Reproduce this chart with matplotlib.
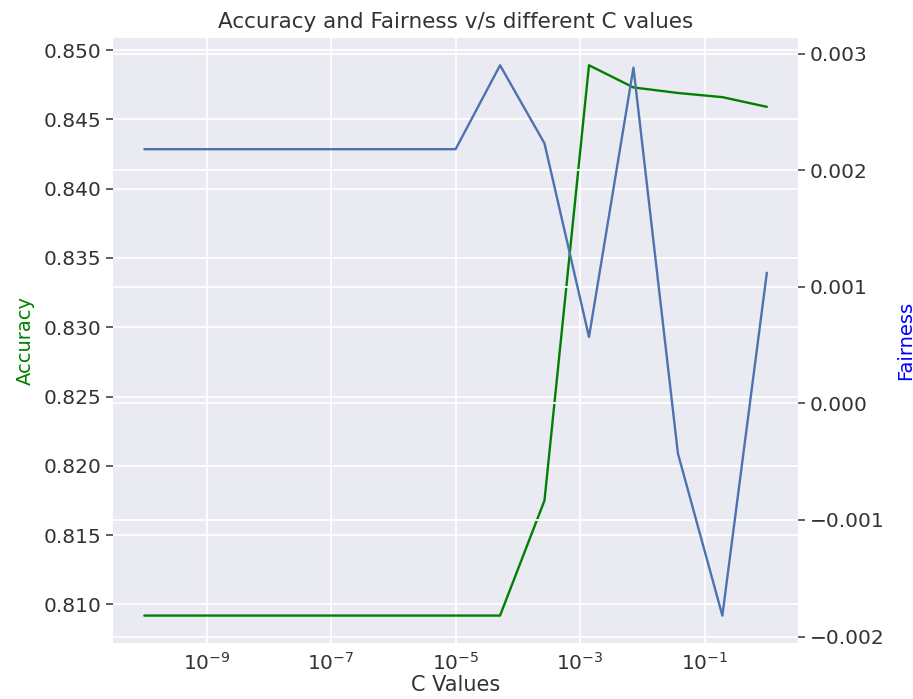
import matplotlib
matplotlib.use("Agg")
import matplotlib.pyplot as plt
import seaborn as sns

# C values tried (log spaced) and the scores
c_values = [1e-10, 1e-5, 5.18e-5, 2.68e-4, 1.39e-3, 7.20e-3, 3.73e-2, 1.93e-1, 1.0]
accuracy = [0.8092, 0.8092, 0.8092, 0.8175, 0.8489, 0.8473, 0.8469, 0.8466, 0.8459]
fairness = [0.00218, 0.00218, 0.00290, 0.00223, 0.00057, 0.00288, -0.00043, -0.00182, 0.00112]
x_ticks = [1e-9, 1e-7, 1e-5, 1e-3, 1e-1]

sns.set_style("darkgrid")
plt.rcParams["font.family"] = ["DejaVu Sans"]

fig = plt.figure(figsize=(9.13, 6.99), dpi=100)
ax1 = fig.add_axes([0.124, 0.080, 0.750, 0.866])
ax2 = ax1.twinx()

ax1.plot(c_values, accuracy, color="green", linewidth=1.7)
ax2.plot(c_values, fairness, color="#4C72B0", linewidth=1.7)
ax1.set_xscale("log")
ax1.set_xticks(x_ticks)
ax1.minorticks_off()

ax1.set_xlabel("C Values", fontsize=15, color="#333333", labelpad=1)
ax1.set_ylabel("Accuracy", fontsize=14, color="green", labelpad=6)
ax2.set_ylabel("Fairness", fontsize=14, color="blue", labelpad=8)
ax1.set_title("Accuracy and Fairness v/s different C values", fontsize=15.5, color="#333333", pad=7)

for ax in (ax1, ax2):
    ax.tick_params(axis="y", labelsize=14.5, length=5, width=1.2, color="#444444", labelcolor="#333333")
    ax.tick_params(axis="x", labelsize=14.5, length=0, labelcolor="#333333", pad=6)
    for s in ax.spines.values():
        s.set_visible(False)
ax1.grid(True, color="white", linewidth=1.3)
ax2.grid(True, axis="y", color="white", linewidth=1.3)

fig.savefig("out.png", dpi=100, facecolor="white")
